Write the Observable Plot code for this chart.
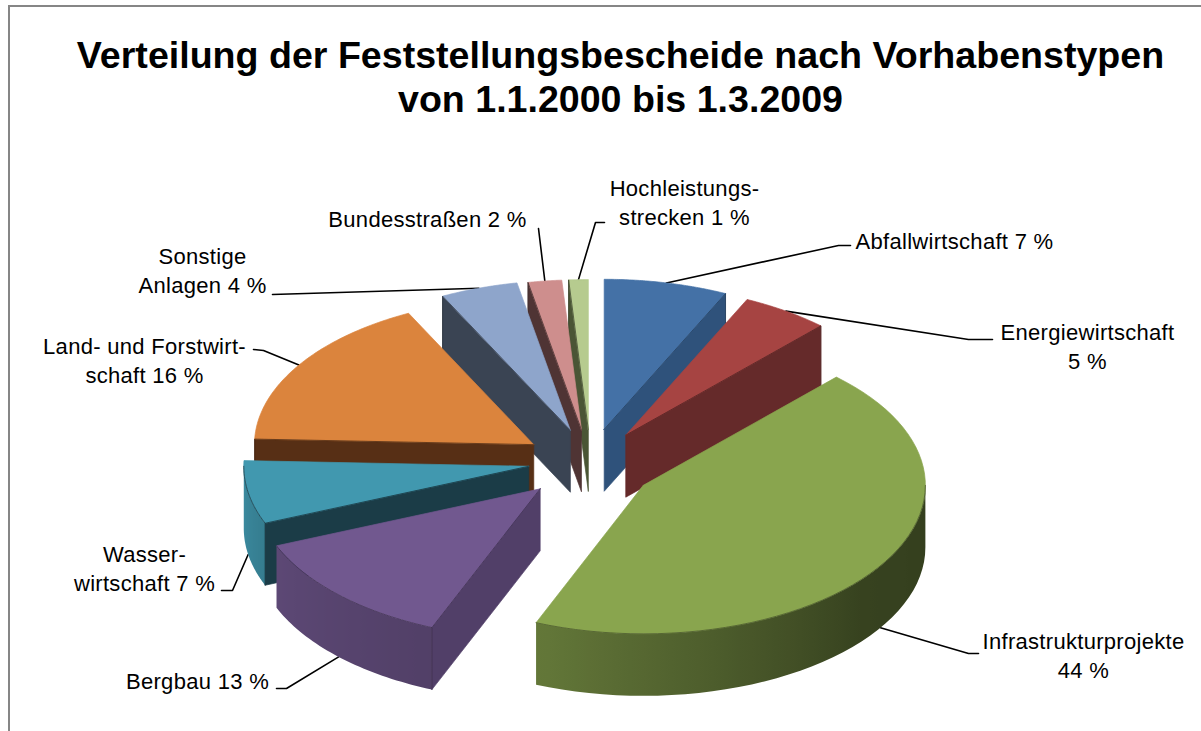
<!DOCTYPE html>
<html lang="de">
<head>
<meta charset="utf-8">
<script src="https://cdn.jsdelivr.net/npm/d3@7"></script>
<script src="https://cdn.jsdelivr.net/npm/@observablehq/plot@0.6"></script>
<style>
html,body{margin:0;padding:0;background:#fff;overflow:hidden;width:1201px;height:731px}
#frame{position:absolute;left:8px;top:5px;width:1300px;height:900px;border:2px solid #868686;box-sizing:border-box;pointer-events:none}
#title{position:absolute;left:0;top:33px;width:1241px;text-align:center;font:bold 37.6px/44px "Liberation Sans",Arial,sans-serif;color:#000}
#chart{position:absolute;left:0;top:150px}
#chart svg{display:block}
</style>
</head>
<body>
<div id="frame"></div>
<div id="title">Verteilung der Feststellungsbescheide nach Vorhabenstypen<br>von 1.1.2000 bis 1.3.2009</div>
<div id="chart"></div>
<script>
// ---- data ----
const categories = ["Abfallwirtschaft","Energiewirtschaft","Infrastrukturprojekte","Bergbau","Wasserwirtschaft","Land- und Forstwirtschaft","Sonstige Anlagen","Bundesstraßen","Hochleistungsstrecken"];
const shares = [7, 5, 44.2, 12.6, 6.8, 17, 4.4, 1.9, 1.1];
const labels = ["Abfallwirtschaft 7 %","Energiewirtschaft\n5 %","Infrastrukturprojekte\n44 %","Bergbau 13 %","Wasser-\nwirtschaft 7 %","Land- und Forstwirt-\nschaft 16 %","Sonstige\nAnlagen 4 %","Bundesstraßen 2 %","Hochleistungs-\nstrecken 1 %"];

// ---- styles ----
const topColors  = ["#4471a6","#a64442","#89a54e","#71588f","#4198af","#db843d","#8ea5cb","#ce8e8d","#b6cb8f"];
const sideColors = ["#2f527b","#652a2a","#5a6d33","#513f68","#1b3c47","#572f15","#3a4453","#4f3434","#4a5535"];

// ---- layout ----
const drawOrder = [8,7,6,0,1,5,4,2,3];
const labelX = [954,1087,1083,197,144,144,202,427,684];
const labelY = [239,345,654,679,567,359,269,217,201];
const leaderEnds = [
  [[838,245],[850,245]], [[968,339],[992,339]], [[968,653],[978,653]],
  [[286,688],[276,688]], [[232,590],[221,590]], [[263,350],[253,349]],
  [[272,294]], [[538,228]], [[595,222],[604,222]]
];
const leaderFront = [0,0,1,1,1,0,0,0,0];
const nudgeX = [2,2,2,-4,2,-2,2,1,2];
const nudgeY = [-1,0,5,3,-2,0,-1,0,0];
const radiusScale = [1,1,.99,1,1,.98,1,1,1];
const cx = 588, cy = 462, rx = 285, ry = 150, depth = 62, explode = 0.22;

const rad = d => d * Math.PI / 180;
const total = d3.sum(shares);
const cum = d3.cumsum(shares);
const slices = shares.map((s, i) => {
  const a0 = (i ? cum[i-1] : 0) / total * 360, a1 = cum[i] / total * 360;
  const mid = (a0 + a1) / 2;
  return {i, a0, a1, mid, rs: radiusScale[i],
    ox: cx + nudgeX[i] + explode * rx * Math.sin(rad(mid)),
    oy: cy + nudgeY[i] - explode * ry * Math.cos(rad(mid))};
});
const pt = (s, a, r, z) => ({x: s.ox + r * s.rs * rx * Math.sin(rad(a)), y: s.oy - r * s.rs * ry * Math.cos(rad(a)) + z * depth});

const wallShade = d3.scaleLinear().domain([90,130,201,248,270]).range([.38,.40,.72,.82,.92]).clamp(true);
const shade = (c, f) => { const q = d3.rgb(c); return d3.rgb(q.r*f, q.g*f, q.b*f).formatHex(); };

// polygons and edges, back to front
const polys = [];
const gradients = [];
let pid = 0;
const add = (pts, fill, stroke = fill) => { const id = pid++; [...pts, pts[0]].forEach(p => polys.push({...p, id, fill, stroke})); };
const edge = (pts, stroke) => { const id = pid++; pts.forEach(p => polys.push({...p, id, fill:"none", stroke})); };
for (const k of drawOrder) {
  const s = slices[k];
  const radial = a => [pt(s,a,0,0), pt(s,a,1,0), pt(s,a,1,1), pt(s,a,0,1)];
  const startShown = Math.sin(rad(s.a0)) < 0, endShown = Math.sin(rad(s.a1)) > 0;
  if (startShown) add(radial(s.a0), sideColors[k]);
  if (endShown) add(radial(s.a1), sideColors[k]);
  const from = Math.max(s.a0, 90), to = Math.min(s.a1, 270);
  if (to > from) {
    const angles = d3.range(0, 41).map(j => from + (to-from)*j/40);
    const xs = angles.map(a => pt(s,a,1,0).x);
    const [x0, x1] = d3.extent(xs);
    gradients.push({id:`wall${k}`, x0, x1, stops: angles.map((a,j) => ({
      offset: (xs[j]-x0)/(x1-x0), color: shade(topColors[k], wallShade(a))}))
      .sort((p,q) => p.offset - q.offset)});
    const fill = `url(#wall${k})`;
    add([...angles.map(a => pt(s,a,1,0)), ...angles.slice().reverse().map(a => pt(s,a,1,1))], fill, "none");
  }
  const arc = d3.range(0, 61).map(j => pt(s, s.a0 + (s.a1-s.a0)*j/60, 1, 0));
  add([pt(s,0,0,0), ...arc], topColors[k]);
  const dark = shade(sideColors[k], .7);
  if (startShown) edge([pt(s,s.a0,0,0), pt(s,s.a0,1,0), pt(s,s.a0,1,1)], dark);
  if (endShown) edge([pt(s,s.a1,0,0), pt(s,s.a1,1,0), pt(s,s.a1,1,1)], dark);
  if (to > from) edge(d3.range(0, 41).map(j => pt(s, from + (to-from)*j/40, 1, 0)), dark);
}

// leaders
const leaders = slices.flatMap(s => {
  const start = pt(s, s.mid, 1, leaderFront[s.i]);
  return [start, ...leaderEnds[s.i].map(([x,y]) => ({x,y}))].map(p => ({...p, id: s.i}));
});
const labelRows = labels.map((text,i) => ({text, x: labelX[i], y: labelY[i], name: categories[i]}));

const plot = Plot.plot({
  width: 1201, height: 581, margin: 0,
  x: {domain:[0,1201], range:[0,1201], axis:null},
  y: {domain:[150,731], range:[0,581], axis:null},
  color: {type:"identity"},
  style: {background:"transparent", overflow:"visible"},
  marks: [
    Plot.line(leaders, {x:"x", y:"y", z:"id", stroke:"#000", strokeWidth:1.6}),
    Plot.line(polys, {x:"x", y:"y", z:"id", fill:"fill", stroke:"stroke", strokeWidth:0.7}),
    Plot.text(labelRows, {x:"x", y:"y", text:"text", fontSize:22, lineHeight:1.32, fill:"#000",
      fontFamily:"'Liberation Sans',Arial,sans-serif", textAnchor:"middle"})
  ]
});
const defs = d3.select(plot).insert("defs", ":first-child");
for (const g of gradients) {
  const lg = defs.append("linearGradient").attr("id", g.id).attr("x1", 0).attr("x2", 1).attr("y1", 0).attr("y2", 0);
  g.stops.forEach(st => lg.append("stop").attr("offset", st.offset).attr("stop-color", st.color));
}
document.getElementById("chart").appendChild(plot);
plot.querySelectorAll("text").forEach(t => t.setAttribute("letter-spacing","0.3"));
</script>
</body>
</html>
